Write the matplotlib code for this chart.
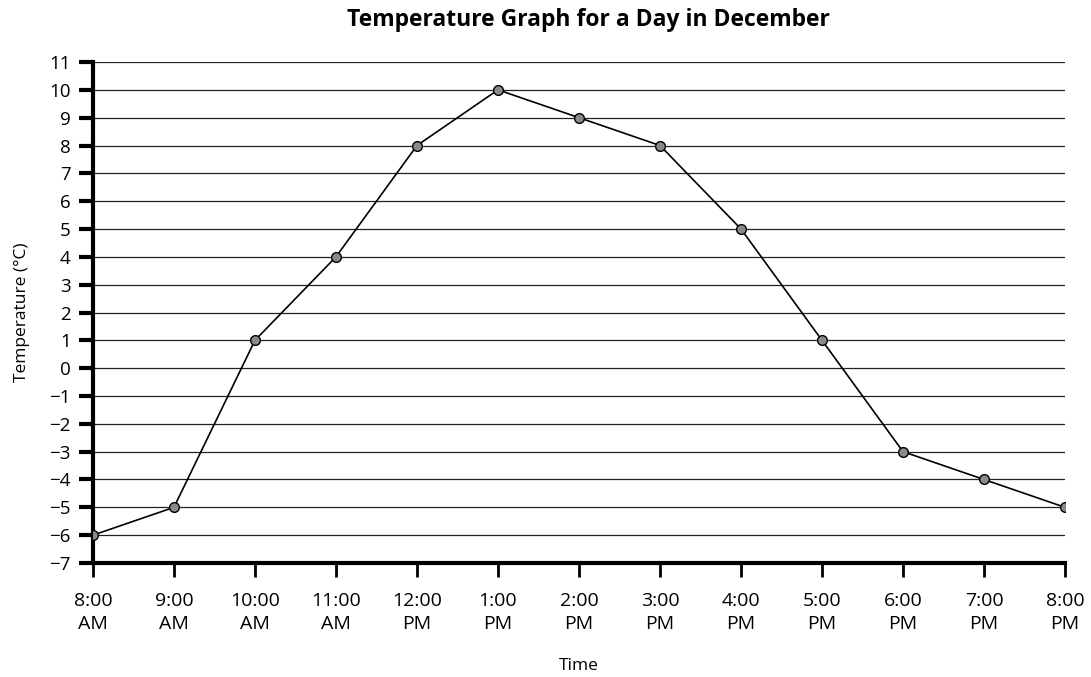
import matplotlib
matplotlib.use('Agg')
from matplotlib import pyplot as plt
import numpy as np

# hourly readings
times = ['8:00\nAM', '9:00\nAM', '10:00\nAM', '11:00\nAM', '12:00\nPM', '1:00\nPM',
         '2:00\nPM', '3:00\nPM', '4:00\nPM', '5:00\nPM', '6:00\nPM', '7:00\nPM', '8:00\nPM']
temps = [-6, -5, 1, 4, 8, 10, 9, 8, 5, 1, -3, -4, -5]
yticks = list(range(-7, 12))

plt.rcParams['font.family'] = ['Open Sans', 'DejaVu Sans']

fig = plt.figure(figsize=(10.91, 6.77), dpi=100)
ax = fig.add_axes([0.0852, 0.1684, 0.891, 0.740])

x = np.arange(len(times))
for t in yticks[1:]:
    ax.axhline(t, color='#222222', linewidth=0.9, zorder=1)

ax.plot(x, temps, color='black', linewidth=1.2, marker='o', markersize=7,
        markerfacecolor='#8a8a8a', markeredgecolor='black', markeredgewidth=1.0, zorder=3)

ax.set_xlim(0, len(times) - 1)
ax.set_ylim(-7, 11)
ax.set_xticks(x)
ax.set_xticklabels(times, fontsize=14, linespacing=1.35)
ax.set_yticks(yticks)
ax.set_yticklabels([str(t).replace('-', '\u2212') for t in yticks], fontsize=13.5)

for s in ['top', 'right']:
    ax.spines[s].set_visible(False)
ax.spines['left'].set_linewidth(3)
ax.spines['bottom'].set_linewidth(3)
ax.tick_params(axis='y', length=10, width=3, pad=6)
ax.tick_params(axis='x', length=10, width=2, pad=11)

ax.set_xlabel('Time', fontsize=12.5, labelpad=18)
ax.set_ylabel('Temperature (\u00b0C)', fontsize=12.5, labelpad=14)
fig.text(0.539, 0.962, 'Temperature Graph for a Day in December', ha='center', va='baseline',
         fontsize=16.5, fontweight='bold')

fig.savefig('out.png', dpi=100)
